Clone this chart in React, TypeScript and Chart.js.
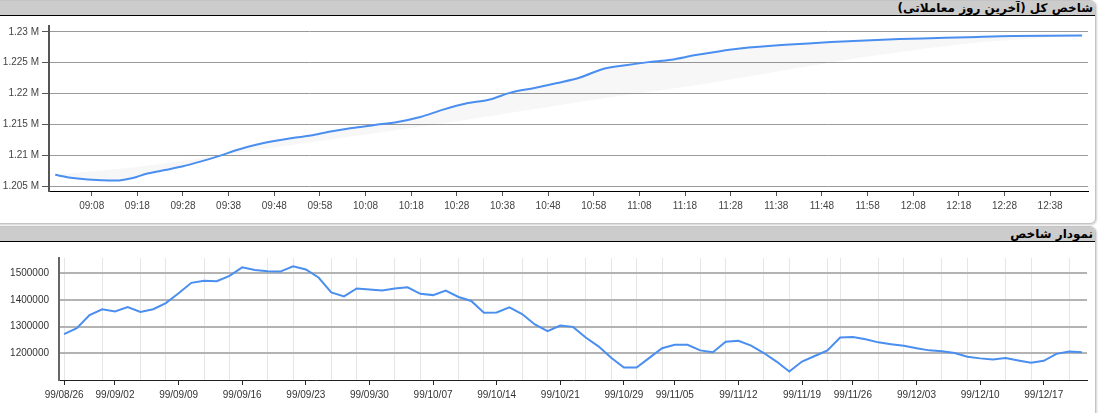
import React, { useEffect, useRef } from 'react';
import { Chart, registerables } from 'chart.js';

Chart.register(...registerables);

// ---------- Top chart (intraday index) ----------
const topTimes = ['09:00','09:03','09:06','09:10','09:14','09:17','09:20','09:24','09:28','09:32','09:36','09:40','09:44','09:48','09:52','09:56','10:00','10:05','10:10','10:15','10:20','10:25','10:30','10:35','10:40','10:45','10:50','10:55','11:00','11:05','11:10','11:15','11:20','11:25','11:30','11:40','11:50','12:00','12:10','12:20','12:30','12:45'];
const topValues = [1206820,1206400,1206150,1205950,1205920,1206300,1207000,1207600,1208200,1209000,1209900,1210900,1211700,1212300,1212800,1213200,1213800,1214400,1214900,1215400,1216200,1217400,1218400,1219000,1220200,1220900,1221700,1222600,1224000,1224600,1225100,1225500,1226200,1226800,1227300,1227900,1228350,1228700,1228950,1229150,1229350,1229400];
const bandTimes = ['09:00','09:20','09:40','10:00','10:20','10:40','11:00','11:20','11:40','12:00','12:20','12:45'];
const bandValues = [1206820,1208300,1210400,1212500,1214600,1216900,1219200,1221300,1223800,1226200,1228100,1229400];
const topTickLabels = ['09:08','09:18','09:28','09:38','09:48','09:58','10:08','10:18','10:28','10:38','10:48','10:58','11:08','11:18','11:28','11:38','11:48','11:58','12:08','12:18','12:28','12:38'];
const topYTicks = [1205000,1210000,1215000,1220000,1225000,1230000];

// ---------- Bottom chart (daily index) ----------
const bottomValues = [1272000,1294000,1343000,1365000,1357000,1373000,1355000,1365000,1388000,1425000,
  1464000,1472000,1470000,1490000,1522000,1512000,1507000,1506000,1526000,1514000,
  1484000,1428000,1413000,1443000,1439000,1435000,1443000,1447000,1423000,1418000,
  1435000,1411000,1396000,1352000,1353000,1372000,1347000,1308000,1283000,1304000,
  1299000,1259000,1226000,1183000,1147000,1147000,1183000,1219000,1232000,1232000,
  1211000,1204000,1243000,1247000,1229000,1201000,1169000,1132000,1169000,1190000,
  1211000,1259000,1261000,1253000,1241000,1234000,1228000,1219000,1211000,1208000,
  1201000,1187000,1181000,1177000,1182000,1173000,1165000,1172000,1198000,1207000,
  1204000];
const bottomTickIndex = [0,4,9,14,19,24,29,34,39,44,48,53,58,62,67,72,77];
const bottomTickLabels = ['99/08/26','99/09/02','99/09/09','99/09/16','99/09/23','99/09/30','99/10/07','99/10/14','99/10/21','99/10/29','99/11/05','99/11/12','99/11/19','99/11/26','99/12/03','99/12/10','99/12/17'];
const bottomGridIndex = [0,3,6,8,11,13,16,18,21,23,26,28,31,33,36,38,41,43,45,47,50,52,55,57,60,61,64,66,69,71,74,76,79];
const bottomYTicks = [1200000,1300000,1400000,1500000];

const BLUE = '#4a8ef0';
const AXIS_FONT = { family: "'Liberation Sans', Arial, sans-serif", size: 10 };
const TRANSPARENT = 'rgba(0,0,0,0)';

const toMin = (s: string) => {
  const [h, m] = s.split(':').map(Number);
  return h * 60 + m;
};
const fmtMin = (v: number) => {
  const h = Math.floor(v / 60);
  const m = Math.round(v - h * 60);
  return String(h).padStart(2, '0') + ':' + String(m).padStart(2, '0');
};

function TopChart() {
  const ref = useRef<HTMLCanvasElement>(null);
  useEffect(() => {
    const chart = new Chart(ref.current!, {
      type: 'line',
      data: {
        datasets: [
          {
            data: topTimes.map((t, i) => ({ x: toMin(t), y: topValues[i] })),
            borderColor: BLUE,
            borderWidth: 2,
            pointRadius: 0,
            tension: 0.3,
            fill: '+1',
            backgroundColor: 'rgba(0,0,0,0.03)',
          },
          {
            data: bandTimes.map((t, i) => ({ x: toMin(t), y: bandValues[i] })),
            borderColor: TRANSPARENT,
            borderWidth: 0,
            pointRadius: 0,
            tension: 0.3,
            fill: false,
          },
        ],
      },
      options: {
        animation: false,
        responsive: false,
        events: [],
        layout: { padding: { top: 7, right: 8, left: 0, bottom: 0 } },
        plugins: { legend: { display: false }, tooltip: { enabled: false } },
        scales: {
          x: {
            type: 'linear',
            min: 538.64,
            max: 766.3,
            afterBuildTicks: (s: any) => {
              s.ticks = topTickLabels.map((l) => ({ value: toMin(l) }));
            },
            afterFit: (s: any) => { s.height = 33; },
            grid: { drawOnChartArea: false, tickLength: 5, tickColor: '#555', color: '#555' },
            border: { color: '#000', width: 1 },
            ticks: {
              callback: (v: any) => fmtMin(Number(v)),
              font: AXIS_FONT,
              color: '#444',
              padding: 4,
              maxRotation: 0,
              autoSkip: false,
            },
          },
          y: {
            min: 1204200,
            max: 1230960,
            afterBuildTicks: (s: any) => {
              s.ticks = topYTicks.map((v) => ({ value: v }));
            },
            afterFit: (s: any) => { s.width = 49; },
            grid: { color: '#9a9a9a', tickLength: 7, tickColor: '#555' },
            border: { color: '#555', width: 2 },
            ticks: {
              callback: (v: any) => parseFloat((Number(v) / 1e6).toFixed(3)) + ' M',
              font: AXIS_FONT,
              color: '#444',
              padding: 3,
            },
          },
        },
      },
    } as any);
    return () => chart.destroy();
  }, []);
  return (
    <canvas
      ref={ref}
      width={1096}
      height={207}
      style={{ position: 'absolute', left: 0, top: 17, width: 1096, height: 207 }}
    />
  );
}

function BottomChart() {
  const ref = useRef<HTMLCanvasElement>(null);
  useEffect(() => {
    const labelMap = new Map<number, string>();
    bottomTickIndex.forEach((idx, i) => labelMap.set(idx, bottomTickLabels[i]));
    const gridSet = new Set(bottomGridIndex);
    const allTicks = Array.from(new Set([...bottomGridIndex, ...bottomTickIndex])).sort((a, b) => a - b);
    const chart = new Chart(ref.current!, {
      type: 'line',
      data: {
        datasets: [
          {
            data: bottomValues.map((v, i) => ({ x: i, y: v })),
            borderColor: BLUE,
            borderWidth: 2,
            pointRadius: 0,
            tension: 0,
            fill: false,
          },
        ],
      },
      options: {
        animation: false,
        responsive: false,
        events: [],
        layout: { padding: { top: 10, right: 9, left: 0, bottom: 0 } },
        plugins: { legend: { display: false }, tooltip: { enabled: false } },
        scales: {
          x: {
            type: 'linear',
            min: -0.4,
            max: 80.4,
            afterBuildTicks: (s: any) => {
              s.ticks = allTicks.map((v) => ({ value: v }));
            },
            afterFit: (s: any) => { s.height = 33; },
            grid: {
              lineWidth: 1,
              color: (ctx: any) => (ctx.tick && gridSet.has(ctx.tick.value) ? '#e6e6e6' : TRANSPARENT),
              tickColor: (ctx: any) => (ctx.tick && labelMap.has(ctx.tick.value) ? '#222' : TRANSPARENT),
              tickLength: 5,
              tickWidth: 1,
            },
            border: { color: '#222', width: 1 },
            ticks: {
              callback: (v: any) => labelMap.get(Number(v)) ?? '',
              font: AXIS_FONT,
              color: '#333',
              padding: 4,
              maxRotation: 0,
              autoSkip: false,
            },
          },
          y: {
            min: 1100000,
            max: 1557000,
            afterBuildTicks: (s: any) => {
              s.ticks = bottomYTicks.map((v) => ({ value: v }));
            },
            afterFit: (s: any) => { s.width = 59; },
            grid: { color: '#b3b3b3', lineWidth: 2, drawTicks: false },
            border: { color: '#666', width: 2 },
            ticks: {
              callback: (v: any) => String(v),
              font: AXIS_FONT,
              color: '#333',
              padding: 10,
            },
          },
        },
      },
    } as any);
    return () => chart.destroy();
  }, []);
  return (
    <canvas
      ref={ref}
      width={1096}
      height={171}
      style={{ position: 'absolute', left: 0, top: 242, width: 1096, height: 171 }}
    />
  );
}

const panelStyle: React.CSSProperties = {
  position: 'absolute',
  left: -6,
  width: 1100,
  border: '1px solid #c4c4c4',
  borderRadius: 6,
  background: '#fff',
  boxShadow: '1px 1px 2px rgba(0,0,0,0.18)',
  overflow: 'hidden',
};
const headerStyle: React.CSSProperties = {
  height: 14,
  background: '#cccccc',
  borderBottom: '1px solid #000',
  textAlign: 'right',
  direction: 'rtl',
  fontFamily: "Tahoma, 'DejaVu Sans', sans-serif",
  fontWeight: 'bold',
  fontSize: 12,
  lineHeight: '15px',
  color: '#000',
  paddingRight: 2,
  whiteSpace: 'nowrap',
};

export default function App() {
  useEffect(() => {
    document.body.style.margin = '0';
  }, []);
  return (
    <div style={{ position: 'relative', width: 1103, height: 413, overflow: 'hidden', background: '#fff' }}>
      <div style={{ ...panelStyle, top: 0, height: 222 }}>
        <div style={headerStyle}>شاخص کل (آخرین روز معاملاتی)</div>
      </div>
      <div style={{ ...panelStyle, top: 226, height: 200 }}>
        <div style={headerStyle}>نمودار شاخص</div>
      </div>
      <TopChart />
      <BottomChart />
    </div>
  );
}
